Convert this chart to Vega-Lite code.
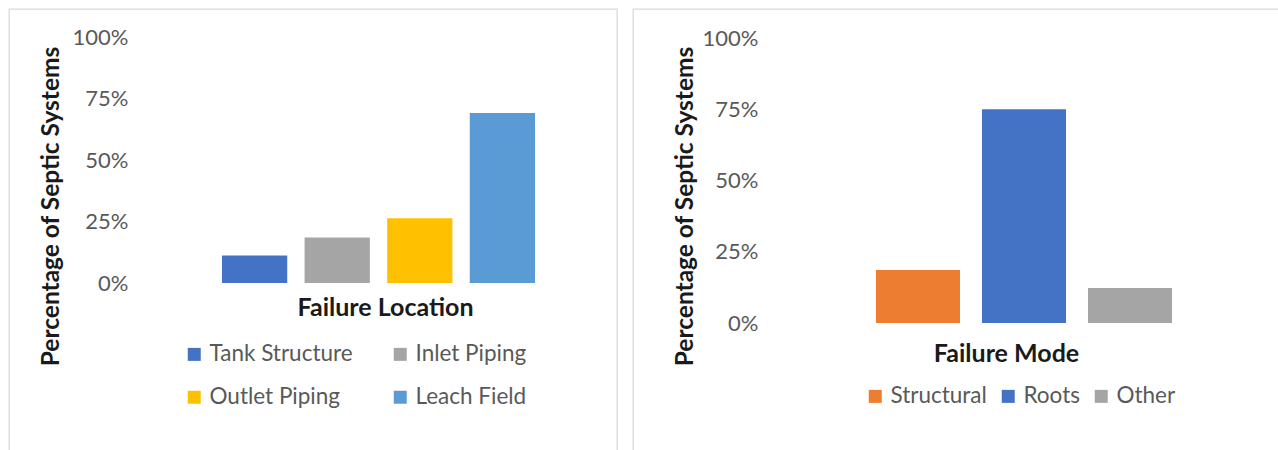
{
  "$schema": "https://vega.github.io/schema/vega-lite/v6.json",
  "padding": {"left": 8, "top": 8, "right": 0, "bottom": 0},
  "background": "white",
  "bounds": "flush",
  "spacing": 16,
  "resolve": {"scale": {"color": "independent"}, "legend": {"color": "independent"}},
  "config": {
    "view": {"stroke": "#d9d9d9", "strokeWidth": 1.3},
    "font": "Lato",
    "axis": {"labelFont": "Lato", "titleFont": "Lato", "labelColor": "#595959", "titleColor": "#1a1a1a", "grid": false, "domain": false, "ticks": false, "tickSize": 0},
    "legend": {"labelFont": "Lato", "labelColor": "#595959"}
  },
  "hconcat": [
    {
      "width": 608,
      "height": 444,
      "data": {"values": [
        {"location": "Tank Structure", "pct": 0.112},
        {"location": "Inlet Piping", "pct": 0.185},
        {"location": "Outlet Piping", "pct": 0.263},
        {"location": "Leach Field", "pct": 0.691}
      ]},
      "mark": {"type": "bar"},
      "encoding": {
        "x": {
          "field": "location", "type": "nominal",
          "sort": ["Tank Structure", "Inlet Piping", "Outlet Piping", "Leach Field"],
          "scale": {"range": [213, 526], "paddingInner": 0.21, "paddingOuter": 0},
          "axis": {"title": "Failure Location", "labels": false, "titleFontSize": 25, "titleFontWeight": "bold", "titleX": 376, "titleY": -146, "titleBaseline": "middle", "titleAlign": "center"}
        },
        "y": {
          "field": "pct", "type": "quantitative",
          "scale": {"domain": [0, 1], "range": [274, 28], "nice": false},
          "axis": {"format": ".0%", "values": [0, 0.25, 0.5, 0.75, 1], "labelFontSize": 22, "labelPadding": 0, "offset": -119, "title": "Percentage of Septic Systems", "titleFontSize": 24.5, "titleFontWeight": "bold", "titleX": -77, "titleY": 197, "titleAngle": -90, "titleAlign": "center", "titleBaseline": "middle"}
        },
        "color": {
          "field": "location", "type": "nominal",
          "scale": {"domain": ["Tank Structure", "Inlet Piping", "Outlet Piping", "Leach Field"], "range": ["#4472C4", "#A5A5A5", "#FFC000", "#5B9BD5"]},
          "legend": {"title": null, "orient": "none", "direction": "horizontal", "legendX": 174, "legendY": 334, "columns": 2, "symbolType": "square", "symbolSize": 169, "symbolStrokeWidth": 0, "labelFontSize": 22.5, "labelOffset": 4, "columnPadding": 36, "rowPadding": 20}
        }
      }
    },
    {
      "width": 646,
      "height": 444,
      "data": {"values": [
        {"mode": "Structural", "pct": 0.186},
        {"mode": "Roots", "pct": 0.75},
        {"mode": "Other", "pct": 0.123}
      ]},
      "mark": {"type": "bar"},
      "encoding": {
        "x": {
          "field": "mode", "type": "nominal",
          "sort": ["Structural", "Roots", "Other"],
          "scale": {"range": [243, 539], "paddingInner": 0.2075, "paddingOuter": 0},
          "axis": {"title": "Failure Mode", "labels": false, "titleFontSize": 25, "titleFontWeight": "bold", "titleX": 373, "titleY": -100, "titleBaseline": "middle", "titleAlign": "center"}
        },
        "y": {
          "field": "pct", "type": "quantitative",
          "scale": {"domain": [0, 1], "range": [314, 29], "nice": false},
          "axis": {"format": ".0%", "values": [0, 0.25, 0.5, 0.75, 1], "labelFontSize": 22, "labelPadding": 0, "offset": -125, "title": "Percentage of Septic Systems", "titleFontSize": 24.5, "titleFontWeight": "bold", "titleX": -73, "titleY": 197, "titleAngle": -90, "titleAlign": "center", "titleBaseline": "middle"}
        },
        "color": {
          "field": "mode", "type": "nominal",
          "scale": {"domain": ["Structural", "Roots", "Other"], "range": ["#ED7D31", "#4472C4", "#A5A5A5"]},
          "legend": {"title": null, "orient": "none", "direction": "horizontal", "legendX": 231, "legendY": 376, "symbolType": "square", "symbolSize": 169, "symbolStrokeWidth": 0, "labelFontSize": 22.5, "labelOffset": 4, "columnPadding": 10}
        }
      }
    }
  ]
}
